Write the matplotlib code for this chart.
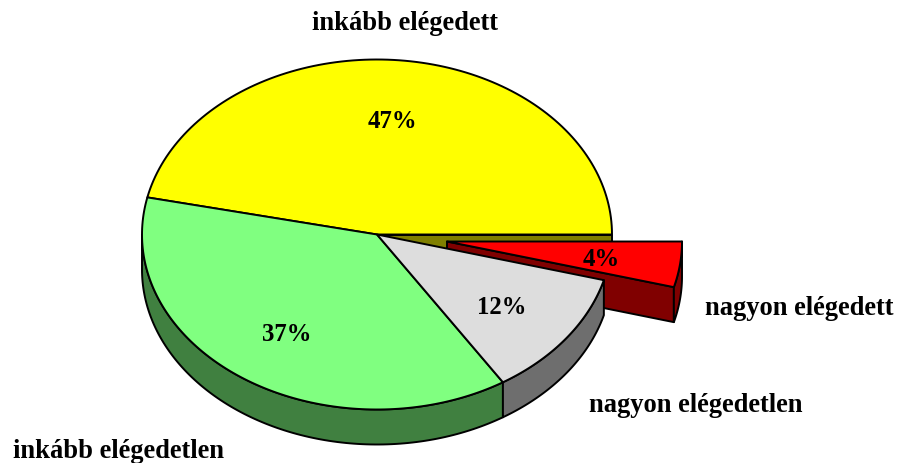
import numpy as np
import matplotlib
matplotlib.use('Agg')
import matplotlib.pyplot as plt

labels = ['inkább elégedett', 'inkább elégedetlen', 'nagyon elégedetlen', 'nagyon elégedett']
values = [46.6, 37.4, 11.8, 4.2]
top_colors = ['#FFFF00', '#80FF80', '#DDDDDD', '#FF0000']
wall_colors = ['#808000', '#408040', '#6E6E6E', '#800000']

cx, cy = 377, 235.5
rx, ry = 235, 175
depth = 35
explode = [(0, 0), (0, 0), (0, 0), (70, 7)]

label_pos = [(404.5, 24), (118.5, 452), (695.5, 406), (799.5, 309)]
pct_pos = [(392, 122), (287, 335), (502, 308), (601, 260)]
LW = 1.4


def arc(a0, a1, dx=0, dy=0, down=0):
    t = np.radians(np.linspace(a0, a1, 120))
    return cx + dx + rx * np.cos(t), cy + dy + down - ry * np.sin(t)


def poly(ax, x, y, color):
    ax.fill(x, y, facecolor=color, edgecolor='black', linewidth=LW, joinstyle='round')


def slice_walls(ax, a0, a1, color, dx, dy):
    # outer rim, only the part that faces the viewer
    lo, hi = max(a0, 180), min(a1, 360)
    if lo < hi:
        x1, y1 = arc(lo, hi, dx, dy)
        x2, y2 = arc(hi, lo, dx, dy, depth)
        poly(ax, np.r_[x1, x2], np.r_[y1, y2], color)


def cut_wall(ax, a, color, dx, dy):
    x, y = arc(a, a, dx, dy)
    px = [cx + dx, x[0], x[0], cx + dx]
    py = [cy + dy, y[0], y[0] + depth, cy + dy + depth]
    poly(ax, px, py, color)


fig = plt.figure(figsize=(8.99, 4.64), dpi=100)
ax = fig.add_axes([0, 0, 1, 1])
ax.set_xlim(0, 899)
ax.set_ylim(464, 0)
ax.axis('off')

edges = np.cumsum([0] + values) * 3.6

# back to front: cut face of the yellow slice, then the pulled out red one
cut_wall(ax, edges[0], wall_colors[0], 0, 0)
dx, dy = explode[3]
cut_wall(ax, edges[3], wall_colors[3], dx, dy)
slice_walls(ax, edges[3], edges[4], wall_colors[3], dx, dy)
x, y = arc(edges[3], edges[4], dx, dy)
poly(ax, np.r_[cx + dx, x], np.r_[cy + dy, y], top_colors[3])

for i in range(3):
    slice_walls(ax, edges[i], edges[i + 1], wall_colors[i], 0, 0)
for i in range(3):
    x, y = arc(edges[i], edges[i + 1])
    poly(ax, np.r_[cx, x], np.r_[cy, y], top_colors[i])

font = dict(family='Liberation Serif', weight='bold', color='black', ha='center', va='center')
for lab, pos in zip(labels, label_pos):
    ax.text(pos[0], pos[1], lab, fontsize=19.1, **font)
for val, pos in zip(values, pct_pos):
    ax.text(pos[0], pos[1], f'{val:.0f}%', fontsize=17.8, **font)

fig.savefig('out.png', dpi=100)
